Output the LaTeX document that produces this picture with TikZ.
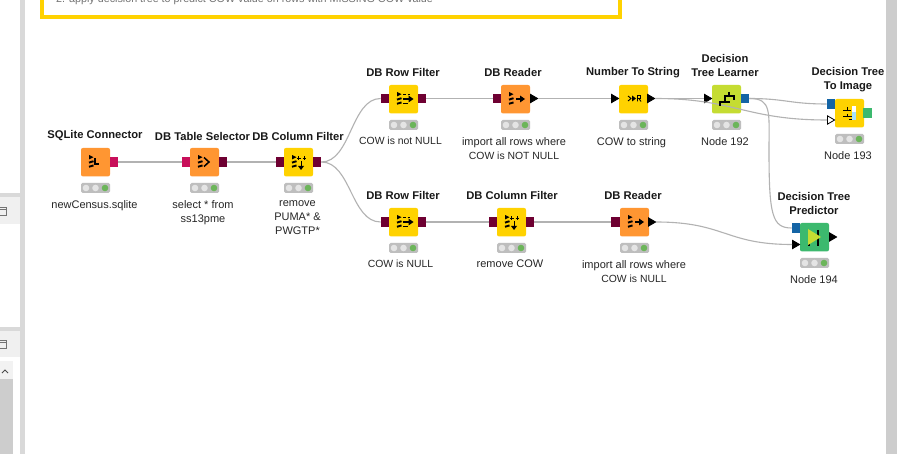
\documentclass[tikz,border=0pt]{standalone}
\usepackage{fontspec}
\setmainfont{Liberation Sans}
\usetikzlibrary{calc}
\definecolor{kor}{HTML}{FF9632}
\definecolor{kye}{HTML}{FFD200}
\definecolor{kli}{HTML}{C5DC32}
\definecolor{kgr}{HTML}{3CB96E}
\definecolor{kma}{HTML}{6E0032}
\definecolor{kpi}{HTML}{C80F5A}
\definecolor{kbl}{HTML}{1464A5}
\definecolor{kst}{HTML}{BEBEBE}
\definecolor{kwi}{HTML}{E4E4E4}
\definecolor{kok}{HTML}{6CB55A}
\definecolor{kside}{HTML}{D9D9D9}
\definecolor{khead}{HTML}{F0F0F0}
\definecolor{kscroll}{HTML}{CDCDCD}
\newcommand\kn[1]{{\fontsize{10.4}{14}\selectfont #1}}
\tikzset{
  kbody/.style={rounded corners=2pt,minimum width=29pt,minimum height=28.5pt,inner sep=0pt},
  kbar/.style={fill=kst,rounded corners=1.5pt,minimum width=29pt,minimum height=10pt,inner sep=0pt},
  kdot/.style={circle,minimum size=6.6pt,inner sep=0pt,fill=#1},
  kport/.style={minimum width=8.4pt,minimum height=9.5pt,inner sep=0pt,fill=#1},
  ktitle/.style={font=\fontsize{11.2}{14}\selectfont\bfseries,align=center,inner sep=0pt,text=black!90},
  klabel/.style={font=\fontsize{11}{14}\selectfont,align=center,inner sep=0pt,text=black!85},
  kwire/.style={draw=black!30,line width=1.1pt},
  kicon/.style={line width=1.9pt,black}
}
% name, left, top, colour
\newcommand\kbox[4]{%
  \node[kbody,fill=#4] (#1) at (#2+14.5,#3+14.2) {};
  \node[kbar] (#1bar) at (#2+14.5,#3+40) {};
  \node[kdot=kwi] (#1a) at (#2+5,#3+40) {};
  \node[kdot=kwi] (#1b) at (#2+14.5,#3+40) {};
  \node[kdot=kok] (#1c) at (#2+24,#3+40) {};
}
% name, centre x, centre y, fill, outline
\newcommand\ktri[5]{%
  \coordinate (#1) at (#2,#3);
  \coordinate (#1in) at (#2-4,#3);
  \coordinate (#1out) at (#2+4,#3);
  \filldraw[fill=#4,draw=#5,line width=0.8pt,line join=miter] (#2-3.6,#3-4.2) -- (#2+3.6,#3) -- (#2-3.6,#3+4.2) -- cycle;
}
% database marks at box left/top
\newcommand\kdb[2]{%
  \fill (#1+8,#2+7) -- (#1+12.5,#2+9.2) -- (#1+8,#2+11.4) -- cycle;
  \draw[kicon] (#1+8,#2+14.6) -- (#1+12.5,#2+13.2);
  \draw[kicon] (#1+8,#2+18.8) -- (#1+12.5,#2+17.4);
}
\newcommand\kcolf[2]{%
  \kdb{#1}{#2}
  \draw[line width=.8pt] (#1+13,#2+10) -- (#1+16.500,#2+10) (#1+14.750,#2+8.2) -- (#1+14.750,#2+11.8);
  \draw[line width=.8pt] (#1+18.5,#2+10) -- (#1+22,#2+10) (#1+20.250,#2+8.2) -- (#1+20.250,#2+11.8);
  \draw[line width=1pt] (#1+17,#2+13) -- (#1+17,#2+19);
  \fill (#1+14,#2+18) -- (#1+20,#2+18) -- (#1+17,#2+22) -- cycle;
}
\newcommand\krowf[2]{%
  \kdb{#1}{#2}
  \draw[line width=.8pt] (#1+14,#2+9.5) -- (#1+17,#2+9.5) (#1+18.5,#2+9.5) -- (#1+21,#2+9.5);
  \draw[line width=1.2pt] (#1+13.5,#2+14) -- (#1+21,#2+14);
  \fill (#1+19.5,#2+10.5) -- (#1+24.500,#2+14) -- (#1+19.5,#2+17.5) -- cycle;
  \draw[line width=.8pt] (#1+14,#2+18.5) -- (#1+19,#2+18.5);
}
\newcommand\kread[2]{%
  \kdb{#1}{#2}
  \draw[line width=1.2pt] (#1+15,#2+14) -- (#1+20,#2+14);
  \fill (#1+19,#2+10.5) -- (#1+24,#2+14) -- (#1+19,#2+17.5) -- cycle;
}
\begin{document}
\begin{tikzpicture}[x=1pt,y=-1pt]
\useasboundingbox (0,0) rectangle (897,454);
\fill[white] (0,0) rectangle (897,454);
% surrounding application window
\fill[kside] (20,0) rectangle (25,454);
\fill[khead] (0,197) rectangle (20,224);
\fill[kside] (0,193) rectangle (22,197);
\draw[black!55,line width=.7pt] (-2,207) rectangle (6.5,215.5) (-2,209.5) -- (6.5,209.5);
\fill[khead] (0,331) rectangle (20,357);
\fill[kside] (0,327) rectangle (22,331);
\draw[black!55,line width=.7pt] (-2,340) rectangle (6.5,348.5) (-2,342.5) -- (6.5,342.5);
\fill[black!5] (0,361) rectangle (13,379);
\fill[kscroll] (0,379) rectangle (13,454);
\draw[black!70,line width=1pt] (2,373) -- (5,370) -- (8,373);
\fill[kscroll] (886,0) rectangle (897,454);
% annotation box
\node[anchor=base west,inner sep=0pt,font=\fontsize{10.75}{12}\selectfont,text=black!55] (note) at (56,3) {2. apply decision tree to predict COW value on rows with MISSING COW value};
\draw[kye,line width=4pt,line join=miter] (42,-5) -- (42,17) -- (620,17) -- (620,-5);
% node bodies
\kbox{sqlite}{81}{148}{kor}
\kbox{tablesel}{190}{148}{kor}
\kbox{colf}{284}{148}{kye}
\kbox{rowtop}{389}{85}{kye}
\kbox{readtop}{501}{85}{kor}
\kbox{numstr}{619}{85}{kye}
\kbox{learn}{712}{85}{kli}
\kbox{image}{835}{99}{kye}
\kbox{rowbot}{389}{208}{kye}
\kbox{colbot}{497}{208}{kye}
\kbox{readbot}{620}{208}{kor}
\kbox{pred}{800}{223}{kgr}
% ports
\node[kport=kpi] (p1o) at (114,162) {};
\node[kport=kpi] (p2i) at (186,162) {};
\node[kport=kma] (p2o) at (223,162) {};
\node[kport=kma] (p3i) at (280,162) {};
\node[kport=kma] (p3o) at (317,162) {};
\node[kport=kma] (p4i) at (385,98.500) {};
\node[kport=kma] (p4o) at (422,98.500) {};
\node[kport=kma] (p5i) at (497,98.500) {};
\ktri{p5o}{534}{98.500}{black}{black}
\ktri{p6i}{615}{98.500}{black}{black}
\ktri{p6o}{651}{98.500}{black}{black}
\ktri{p7i}{708}{98.500}{black}{black}
\node[kport=kbl] (p7o) at (745,98.500) {};
\node[kport=kbl] (p8a) at (831,104) {};
\ktri{p8b}{831}{120}{white}{black}
\node[kport=kgr] (p8o) at (867.500,113) {};
\node[kport=kma] (p9i) at (385,222) {};
\node[kport=kma] (p9o) at (422,222) {};
\node[kport=kma] (p10i) at (493,222) {};
\node[kport=kma] (p10o) at (530,222) {};
\node[kport=kma] (p11i) at (615.500,222) {};
\ktri{p11o}{652}{222}{black}{black}
\node[kport=kbl] (p12a) at (796,228) {};
\ktri{p12b}{796}{244.500}{black}{black}
\ktri{p12o}{833}{237}{black}{black}
% connectors
\draw[kwire] (p1o.east) -- (p2i.west);
\draw[kwire] (p2o.east) -- (p3i.west);
\draw[kwire] (p3o.east) .. controls (351,162) and (351,98.500) .. (p4i.west);
\draw[kwire] (p3o.east) .. controls (351,162) and (351,222) .. (p9i.west);
\draw[kwire] (p4o.east) -- (p5i.west);
\draw[kwire] (p5oout) -- (p6iin);
\draw[kwire] (p6oout) -- (p7iin);
\draw[kwire] (p6oout) .. controls (735,98.500) and (745,120) .. (p8bin);
\draw[kwire] (p7o.east) .. controls (785,98.500) and (790,104) .. (p8a.west);
\draw[kwire] (p7o.east) .. controls (772,98.500) and (769,112) .. (769,150) .. controls (769,215) and (772,228) .. (p12a.west);
\draw[kwire] (p9o.east) -- (p10i.west);
\draw[kwire] (p10o.east) -- (p11i.west);
\draw[kwire] (p11oout) .. controls (725,222) and (725,244.500) .. (p12bin);
% icons
\kdb{81}{148}
\draw[line width=1.2pt] (95,158) -- (95,164) -- (99,164);
\kdb{190}{148}
\draw[line width=1.5pt] (204,157.500) -- (209,162) -- (204,166.500);
\kcolf{284}{148}
\krowf{389}{85}
\kread{501}{85}
\krowf{389}{208}
\kcolf{497}{208}
\kread{620}{208}
% number-to-string glyphs
\draw[line width=.9pt] (628,96) -- (631,98.500) -- (628,101);
\fill (632,95.500) -- (636,98.500) -- (632,101.500) -- cycle;
\draw[line width=.9pt] (637.500,101.500) -- (637.500,95.500) -- (640.500,95.500) -- (640.500,98.500) -- (637.500,98.500) (639,98.500) -- (641,101.500);
% learner tree
\draw[line width=1.5pt] (720,106) -- (720,102) -- (730,102) (725,102) -- (725,96) -- (734,96) -- (734,100) (729,92) -- (729,96);
% tree-to-image glyph
\draw[line width=1pt] (843,111) -- (851,111) (847,107) -- (847,111) (843,117) -- (852,117) (847,114) -- (847,117) (849,120) -- (852,120);
\fill[white] (852,106) rectangle (856,112);
\fill[cyan!35] (852,112) rectangle (856,120);
% predictor glyph
\draw[line width=1.6pt] (818,230) -- (818,246) (809,246) -- (809,240) -- (815,240);
\fill[kli] (808,229) -- (821,237) -- (808,245) -- cycle;
% titles and labels
\node[ktitle] (t1) at (95,136) {SQLite Connector};
\node[ktitle] (t2) at (202.500,136) {DB Table Selector};
\node[ktitle] (t3) at (298,136) {DB Column Filter};
\node[ktitle] (t4) at (403,73) {DB Row Filter};
\node[ktitle] (t5) at (513,73) {DB Reader};
\node[ktitle] (t6) at (633,73) {Number To String};
\node[ktitle] (t7) at (725,65.500) {Decision\\Tree Learner};
\node[ktitle] (t8) at (848,79.500) {Decision Tree\\To Image};
\node[ktitle] (t9) at (403,195) {DB Row Filter};
\node[ktitle] (t10) at (512,195) {DB Column Filter};
\node[ktitle] (t11) at (633,195) {DB Reader};
\node[ktitle] (t12) at (814,203.500) {Decision Tree\\Predictor};
\node[klabel,anchor=north] (l1) at (94.500,200) {newCensus.sqlite};
\node[klabel,anchor=north] (l2) at (203,200) {select * from\\ss13pme};
\node[klabel,anchor=north] (l3) at (297.500,200) {remove\\PUMA* \&\\PWGTP*};
\node[klabel,anchor=north] (l4) at (400.500,137) {\kn{COW is not NULL}};
\node[klabel,anchor=north] (l5) at (514,137) {import all rows where\\\kn{COW is NOT NULL}};
\node[klabel,anchor=north] (l6) at (631.500,137) {COW to string};
\node[klabel,anchor=north] (l7) at (725,137) {Node 192};
\node[klabel,anchor=north] (l8) at (848,151) {Node 193};
\node[klabel,anchor=north] (l9) at (400.500,260) {\kn{COW is NULL}};
\node[klabel,anchor=north] (l10) at (510,260) {remove COW};
\node[klabel,anchor=north] (l11) at (634,260) {import all rows where\\\kn{COW is NULL}};
\node[klabel,anchor=north] (l12) at (814,275) {Node 194};
\end{tikzpicture}
\end{document}
